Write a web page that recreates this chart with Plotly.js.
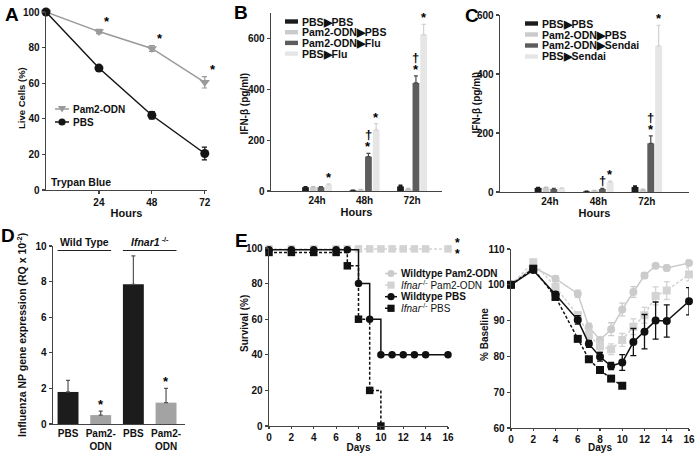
<!DOCTYPE html>
<html><head><meta charset="utf-8">
<script src="https://cdn.plot.ly/plotly-3.0.1.min.js"></script>
<style>body{margin:0;background:#fff}#chart{width:696px;height:453px}</style>
</head><body><div id="chart"></div>
<script>
// ---------- Panel A: live cells ----------
const hoursA = [0, 24, 48, 72];
const pam2Live = [100, 89, 79.5, 60.5];
const pam2LiveErr = [0, 1.2, 1.6, 3.2];
const pbsLive = [100, 68.5, 42, 20.5];
const pbsLiveErr = [0, 1.2, 2.0, 3.6];
const liveNames = ['Pam2-ODN', 'PBS'];
const liveStars = ['*', '*', '*'];

// ---------- Panel B: IFN-beta, flu ----------
const timeCats = ['24h', '48h', '72h'];
const fluNames = ['PBS▶PBS', 'Pam2-ODN▶PBS', 'Pam2-ODN▶Flu', 'PBS▶Flu'];
const fluVals = [[15, 3, 18], [15, 5, 8], [15, 135, 425], [25, 240, 615]];
const fluErr = [[2, 1, 5], [2, 1, 2], [2, 13, 28], [3, 25, 40]];

// ---------- Panel C: IFN-beta, Sendai ----------
const sendaiNames = ['PBS▶PBS', 'Pam2-ODN▶PBS', 'Pam2-ODN▶Sendai', 'PBS▶Sendai'];
const sendaiVals = [[14, 2, 17], [15, 5, 8], [10, 10, 165], [12, 33, 495]];
const sendaiErr = [[2, 1, 4], [2, 1, 2], [2, 2, 25], [2, 4, 70]];

// ---------- Panel D: NP expression ----------
const npLabels = ['PBS', 'Pam2-<br>ODN', 'PBS', 'Pam2-<br>ODN'];
const npVals = [1.8, 0.5, 7.85, 1.2];
const npErr = [0.65, 0.22, 1.6, 0.8];
const npGroups = ['Wild Type', '<i>Ifnar1</i><sup> -/-</sup>'];

// ---------- Panel E: survival and weight ----------
const REG = s => '<span style="font-weight:normal">' + s + '</span>';
const eNames = ['Wildtype Pam2-ODN', REG('<i>Ifnar</i><sup>-/-</sup> Pam2-ODN'), 'Wildtype PBS', REG('<i>Ifnar</i><sup>-/-</sup> PBS')];
const survDays = [[0,2,4,6,7,8,9,10,11,12,13,14,16],[0,2,4,6,7,8,9,10,11,12,13,14,16],[0,2,4,6,7,8,9,10,11,12,13,14,16],[0,2,4,6,7,8,9,10]];
const survVals = [
  [100.5,100.5,100.5,100.5,100.5,100.5,100.5,100.5,100.5,100.5,100.5,100.5,100.5],
  [99.5,99.5,99.5,99.5,99.5,99.5,99.5,99.5,99.5,99.5,99.5,99.5,99.5],
  [99,99,99,99,99,80,60,40,40,40,40,40,40],
  [97.5,97.5,97.5,97.5,90,60,20,0]
];
const wDays = [[0,2,4,6,7,8,9,10,11,12,13,14,16],[0,2,4,6,7,8,9,10,11,12,13,14,16],[0,2,4,6,7,8,9,10,11,12,13,14,16],[0,2,4,6,7,8,9,10]];
const wVals = [
  [100,104.9,101.7,97.5,88.3,84.6,87.6,93.1,98,102.6,105.3,104.7,106.1],
  [100,106.3,99.4,91.5,86,82.8,82,84.6,88.3,91.5,96.9,98.4,102.9],
  [100,104.1,97.3,90.2,83.5,79.9,77.3,78.3,84,86.9,90,89.9,95.4],
  [100,104.5,96.6,84.9,79.2,76.2,73.8,71.8]
];
const wErr = [
  [0,0.8,0.8,1,1,0.8,1.8,1.8,1.5,0.8,0.5,0.8,0.8],
  [0,0.8,1,1,1.5,1.5,1.5,1.8,2.2,2.2,2.5,2.5,1.8],
  [0,0.6,0.8,1.2,1,1.2,1,2.2,3.8,4.8,5.2,4.5,3.8],
  [0,0.5,0.6,0.6,0.5,0.5,0.5,0.5]
];

// ---------- helpers ----------
const W = 696, H = 453;
const fx = p => p / W;
const fy = p => 1 - p / H;
const FAM = 'Liberation Sans, Arial, sans-serif';
const font = (s, c) => ({family: FAM, size: s, color: c || '#111', weight: 'bold'});

const colA = ['#9a9a9a', '#151515'];
const barCols = ['#1c1c1c', '#cbcbcb', '#5d5d5d', '#e6e6e6'];
const barErrCols = ['#1c1c1c', '#bdbdbd', '#4a4a4a', '#d2d2d2'];
const npCols = ['#1c1c1c', '#a3a3a3', '#1c1c1c', '#a3a3a3'];
const eCols = ['#cbcbcb', '#d3d3d3', '#111111', '#111111'];
const eSym = ['circle', 'square', 'circle', 'square'];
const eDash = ['solid', '3px,2px', 'solid', '3px,2px'];

const traces = [];
const annotations = [];
const shapes = [];

// Panel A traces
[[pam2Live, pam2LiveErr, 'triangle-down'], [pbsLive, pbsLiveErr, 'circle']].forEach((s, i) => {
  traces.push({type: 'scatter', mode: 'lines+markers', x: hoursA, y: s[0], name: liveNames[i],
    error_y: {type: 'data', array: s[1], color: colA[i], thickness: 1.2, width: 3},
    line: {color: colA[i], width: 1.5}, marker: {symbol: s[2], size: 9, color: colA[i]},
    cliponaxis: false, showlegend: false, xaxis: 'x', yaxis: 'y'});
});
[1, 2, 3].forEach((k, j) => {
  annotations.push({xref: 'x', yref: 'y', x: hoursA[k], y: pam2Live[k] + pam2LiveErr[k], text: liveStars[j],
    showarrow: false, xanchor: 'left', yanchor: 'bottom', xshift: 3, yshift: -2, font: font(13, '#000')});
});

// Panels B and C bars
const NB = 4, slot = 0.65 / NB;
const off = i => (i - (NB - 1) / 2) * slot;
function barPanel(names, vals, errs, xa, ya) {
  names.forEach((n, i) => {
    traces.push({type: 'bar', x: [0, 1, 2], y: vals[i], name: n, marker: {color: barCols[i], line: {width: 0}},
      error_y: {type: 'data', array: errs[i], arrayminus: [0, 0, 0], symmetric: false, color: barErrCols[i], thickness: 1.2, width: 2},
      showlegend: false, xaxis: xa, yaxis: ya});
  });
}
barPanel(fluNames, fluVals, fluErr, 'x2', 'y2');
barPanel(sendaiNames, sendaiVals, sendaiErr, 'x3', 'y3');

function mark(xa, ya, g, i, vals, errs, txt, extra) {
  annotations.push({xref: xa, yref: ya, x: g + off(i), y: vals[i][g] + errs[i][g], text: txt, showarrow: false,
    xanchor: 'center', yanchor: 'bottom', yshift: (extra || 0) - 3, font: font(13, '#000')});
}
// B marks
mark('x2', 'y2', 0, 3, fluVals, fluErr, '*');
mark('x2', 'y2', 1, 2, fluVals, fluErr, '*');
mark('x2', 'y2', 1, 2, fluVals, fluErr, '†', 12);
mark('x2', 'y2', 1, 3, fluVals, fluErr, '*');
mark('x2', 'y2', 2, 2, fluVals, fluErr, '*');
mark('x2', 'y2', 2, 2, fluVals, fluErr, '†', 12);
mark('x2', 'y2', 2, 3, fluVals, fluErr, '*');
// C marks
mark('x3', 'y3', 1, 2, sendaiVals, sendaiErr, '†', 1);
mark('x3', 'y3', 1, 3, sendaiVals, sendaiErr, '*');
mark('x3', 'y3', 2, 2, sendaiVals, sendaiErr, '*');
mark('x3', 'y3', 2, 2, sendaiVals, sendaiErr, '†', 12);
mark('x3', 'y3', 2, 3, sendaiVals, sendaiErr, '*');

// Panel D
traces.push({type: 'bar', x: [0, 1, 2, 3], y: npVals, width: 0.64, marker: {color: npCols, line: {width: 0}},
  error_y: {type: 'data', array: npErr, arrayminus: [0, 0, 0, 0], symmetric: false, color: '#555', thickness: 1.2, width: 2},
  showlegend: false, xaxis: 'x4', yaxis: 'y4'});
[1, 3].forEach(k => annotations.push({xref: 'x4', yref: 'y4', x: k, y: npVals[k] + npErr[k], text: '*', showarrow: false,
  yanchor: 'bottom', yshift: -3, font: font(13, '#000')}));
npGroups.forEach((g, j) => {
  const a = 2 * j;
  shapes.push({type: 'line', xref: 'x4', yref: 'paper', x0: a - 0.32, x1: a + 1.32, y0: fy(250.5), y1: fy(250.5), line: {color: '#222', width: 1.2}});
  annotations.push({xref: 'x4', yref: 'paper', x: a + 0.5, y: fy(250), text: g, showarrow: false, yanchor: 'bottom', font: font(10.5)});
});

// Panel E left: survival
eNames.forEach((n, i) => {
  traces.push({type: 'scatter', mode: 'lines+markers', x: survDays[i], y: survVals[i], name: n,
    line: {shape: 'hv', color: eCols[i], width: 1.5, dash: eDash[i]},
    marker: {symbol: eSym[i], size: 7.5, color: eCols[i]}, cliponaxis: false, showlegend: false, xaxis: 'x5', yaxis: 'y5'});
});
[5, -5].forEach((ys, i) => annotations.push({xref: 'x5', yref: 'y5', x: 16, y: Math.min(100, survVals[i][survVals[i].length - 1]), text: '*',
  showarrow: false, xanchor: 'left', yanchor: 'middle', xshift: 5, yshift: ys, font: font(12, '#000')}));

// Panel E right: weight
eNames.forEach((n, i) => {
  traces.push({type: 'scatter', mode: 'lines+markers', x: wDays[i], y: wVals[i], name: n,
    error_y: {type: 'data', array: wErr[i], color: eCols[i], thickness: 1.3, width: 3},
    line: {color: eCols[i], width: 1.5, dash: eDash[i]},
    marker: {symbol: eSym[i], size: 8, color: eCols[i]}, cliponaxis: false, showlegend: false, xaxis: 'x6', yaxis: 'y6'});
});

// ---------- custom compact legends ----------
function legend(names, cols, kinds, x0, y0, pitch, sw, fs) {
  names.forEach((n, i) => {
    const yc = y0 + i * pitch;
    const k = kinds[i];
    if (k.bar) {
      shapes.push({type: 'rect', xref: 'paper', yref: 'paper', x0: fx(x0), x1: fx(x0 + sw), y0: fy(yc + 2.2), y1: fy(yc - 2.2),
        fillcolor: cols[i], line: {width: 0}});
    } else {
      shapes.push({type: 'line', xref: 'paper', yref: 'paper', x0: fx(x0), x1: fx(x0 + sw), y0: fy(yc), y1: fy(yc),
        line: {color: cols[i], width: 1.5, dash: k.dash && k.dash !== 'solid' ? 'dot' : 'solid'}});
      const cx = x0 + sw / 2, r = 3.6;
      if (k.sym === 'circle') shapes.push({type: 'circle', xref: 'paper', yref: 'paper', x0: fx(cx - r), x1: fx(cx + r), y0: fy(yc + r), y1: fy(yc - r), fillcolor: cols[i], line: {width: 0}});
      else if (k.sym === 'square') shapes.push({type: 'rect', xref: 'paper', yref: 'paper', x0: fx(cx - r), x1: fx(cx + r), y0: fy(yc + r), y1: fy(yc - r), fillcolor: cols[i], line: {width: 0}});
      else shapes.push({type: 'path', xref: 'paper', yref: 'paper', path: `M${fx(cx - r - 0.5)},${fy(yc - r + 0.5)} L${fx(cx + r + 0.5)},${fy(yc - r + 0.5)} L${fx(cx)},${fy(yc + r)} Z`, fillcolor: cols[i], line: {width: 0}});
    }
    annotations.push({xref: 'paper', yref: 'paper', x: fx(x0 + sw + 2), y: fy(yc), text: n, showarrow: false,
      xanchor: 'left', yanchor: 'middle', font: font(fs)});
  });
}
legend(liveNames, colA, [{sym: 'triangle-down'}, {sym: 'circle'}], 55, 109, 13, 14, 10);
legend(fluNames, barCols, barCols.map(() => ({bar: true})), 285, 21.5, 10.7, 13, 10.5);
legend(sendaiNames, barCols, barCols.map(() => ({bar: true})), 525, 23.5, 11, 13, 10.5);
legend(eNames, eCols, eSym.map((s, i) => ({sym: s, dash: eDash[i]})), 385, 273.5, 11.6, 12, 10);

// Trypan Blue label
annotations.push({xref: 'paper', yref: 'paper', x: fx(49), y: fy(182.5), text: 'Trypan Blue', showarrow: false, xanchor: 'left', yanchor: 'middle', font: font(10.5)});

// y-axis titles (rotated text)
[['Live Cells (%)', 21, 98, 9.5], ['IFN-β (pg/ml)', 243.5, 104, 10], ['IFN-β (pg/ml)', 475.5, 103, 10],
 ['Influenza NP gene expression (RQ x 10<sup>-2</sup>)', 21, 335, 10.5], ['Survival (%)', 244, 324, 10], ['% Baseline', 484, 335, 10]]
  .forEach(t => annotations.push({xref: 'paper', yref: 'paper', x: fx(t[1]), y: fy(t[2]), text: t[0], textangle: -90,
    showarrow: false, xanchor: 'center', yanchor: 'middle', font: font(t[3])}));

// panel letters
[['A', 12, 14], ['B', 241, 12], ['C', 472, 16], ['D', 8, 235], ['E', 241, 240]].forEach(l => annotations.push({
  xref: 'paper', yref: 'paper', x: fx(l[1]), y: fy(l[2]), text: l[0], showarrow: false, xanchor: 'center', yanchor: 'middle',
  font: {family: FAM, size: 19, color: '#000', weight: 'bold'}}));

// ---------- axes ----------
const baseAx = {showgrid: false, zeroline: false, showline: true, linecolor: '#444', linewidth: 1.4, ticks: 'outside',
  ticklen: 3, tickcolor: '#444', tickwidth: 1.2, tickfont: font(10), fixedrange: true};
const ttl = (t, s, st) => ({text: t, font: font(s || 10.5), standoff: st === undefined ? 4 : st});

const layout = {
  width: W, height: H, margin: {l: 0, r: 0, t: 0, b: 0}, paper_bgcolor: '#fff', plot_bgcolor: 'rgba(0,0,0,0)',
  font: font(10), showlegend: false, barmode: 'group', bargap: 0.35, bargroupgap: 0.12,
  xaxis: Object.assign({}, baseAx, {domain: [fx(46), fx(207)], range: [0, 73], tickvals: [24, 48, 72], anchor: 'y', title: ttl('Hours', 11, 2)}),
  yaxis: Object.assign({}, baseAx, {domain: [fy(190), fy(12)], range: [0, 100], dtick: 20, anchor: 'x'}),
  xaxis2: Object.assign({}, baseAx, {domain: [fx(271), fx(442)], range: [-0.97, 2.63], tickvals: [0, 1, 2], ticktext: timeCats, ticks: '', anchor: 'y2', title: ttl('Hours', 11, 0)}),
  yaxis2: Object.assign({}, baseAx, {domain: [fy(191), fy(13)], range: [0, 700], tickvals: [0, 200, 400, 600], anchor: 'x2'}),
  xaxis3: Object.assign({}, baseAx, {domain: [fx(500), fx(689)], range: [-1.03, 2.87], tickvals: [0, 1, 2], ticktext: timeCats, ticks: '', anchor: 'y3', title: ttl('Hours', 11, 0)}),
  yaxis3: Object.assign({}, baseAx, {domain: [fy(192), fy(15)], range: [0, 600], tickvals: [0, 200, 400, 600], anchor: 'x3'}),
  xaxis4: Object.assign({}, baseAx, {domain: [fx(53), fx(185)], range: [-0.46, 3.58], tickvals: [0, 1, 2, 3], ticktext: npLabels, ticks: '', anchor: 'y4'}),
  yaxis4: Object.assign({}, baseAx, {domain: [fy(424), fy(246)], range: [0, 10], dtick: 2, anchor: 'x4'}),
  xaxis5: Object.assign({}, baseAx, {domain: [fx(269), fx(448)], range: [0, 16], dtick: 2, ticklen: 2, anchor: 'y5', title: ttl('Days', 10, 3)}),
  yaxis5: Object.assign({}, baseAx, {domain: [fy(426), fy(248)], range: [0, 100], dtick: 20, anchor: 'x5'}),
  xaxis6: Object.assign({}, baseAx, {domain: [fx(511), fx(689)], range: [0, 16], dtick: 2, ticklen: 2, anchor: 'y6', title: ttl('Days', 10, 3)}),
  yaxis6: Object.assign({}, baseAx, {domain: [fy(428), fy(249)], range: [60, 110], dtick: 10, anchor: 'x6'}),
  annotations: annotations, shapes: shapes
};

Plotly.newPlot('chart', traces, layout, {staticPlot: true, displayModeBar: false});
</script></body></html>
